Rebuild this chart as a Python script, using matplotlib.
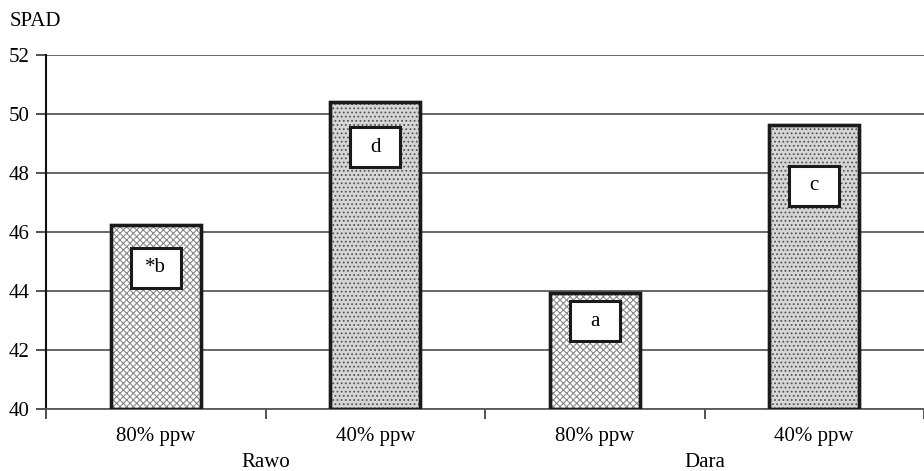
import matplotlib
matplotlib.use("Agg")
import matplotlib.pyplot as plt
from matplotlib.colors import to_rgba
from matplotlib.patches import Rectangle

# SPAD readings per cultivar and water regime
cultivars = ["Rawo", "Dara"]
regimes = ["80% ppw", "40% ppw", "80% ppw", "40% ppw"]
spad = [46.24, 50.40, 43.93, 49.63]
letters = ["*b", "d", "a", "c"]
yticks = [40, 42, 44, 46, 48, 50, 52]

# layout / style
letter_drop = [1.46, 1.52, 0.95, 2.07]
plt.rcParams["font.family"] = ["Liberation Serif", "DejaVu Serif"]
plt.rcParams["hatch.linewidth"] = 0.8
FS = 15

fig = plt.figure(figsize=(9.24, 4.71), dpi=100)
ax = fig.add_axes([46 / 924, 62 / 471, 1 - 46 / 924, 354 / 471])

x = list(range(len(spad)))
bar_w = 90 / 220
faces = ["white", "#d6d6d6", "white", "#d6d6d6"]
hatches = ["xxxxx", "....", "xxxxx", "...."]
hatch_cols = ["#8a8a8a", "#555555", "#8a8a8a", "#555555"]
bars = ax.bar(x, [v - 40 for v in spad], bottom=40, width=bar_w,
              color=faces, edgecolor="#1a1a1a", linewidth=2.4, zorder=3)
for b, h, hc in zip(bars, hatches, hatch_cols):
    b.set_hatch(h)
    b._hatch_color = to_rgba(hc)
# black bar outlines over the hatching
for xi, v in zip(x, spad):
    ax.add_patch(Rectangle((xi - bar_w / 2, 40), bar_w, v - 40, fill=False,
                           edgecolor="#1a1a1a", linewidth=2.4, zorder=4))

# significance letters in white boxes
bw, bh = 50 / 220, 40 / 29.5
for xi, v, lab, d in zip(x, spad, letters, letter_drop):
    cy = v - d
    ax.add_patch(Rectangle((xi - bw / 2, cy - bh / 2), bw, bh, facecolor="white",
                           edgecolor="#1a1a1a", linewidth=2.2, zorder=5))
    ax.text(xi, cy, lab, ha="center", va="center", fontsize=FS, zorder=6)

ax.set_xlim(-0.5, len(spad) - 0.5)
ax.set_ylim(40, 52)
ax.set_yticks(yticks)
ax.set_yticklabels([str(t) for t in yticks], fontsize=FS)
ax.yaxis.grid(True, color="#5a5a5a", linewidth=1.3, zorder=0)
ax.set_axisbelow(True)

ax.set_xticks([i + 0.5 for i in range(-1, len(spad))])
ax.set_xticklabels([])
ax.tick_params(axis="x", direction="out", length=7, width=1.2, color="#333333")
ax.tick_params(axis="y", direction="out", length=7, width=1.2, color="#333333", pad=5)

for i, r in enumerate(regimes):
    ax.text(i, 39.08, r, ha="center", va="center", fontsize=FS, clip_on=False)

for i, c in enumerate(cultivars):
    ax.text(2 * i + 0.5, 38.17, c, ha="center", va="center", fontsize=FS, clip_on=False)

for s in ["top", "right"]:
    ax.spines[s].set_visible(False)
ax.spines["left"].set_color("#111111")
ax.spines["left"].set_linewidth(1.5)
ax.spines["bottom"].set_color("#5a5a5a")
ax.spines["bottom"].set_linewidth(1.3)

fig.text(10 / 924, 1 - 22 / 471, "SPAD", fontsize=FS, ha="left", va="center")

fig.savefig("out.png", dpi=100)
